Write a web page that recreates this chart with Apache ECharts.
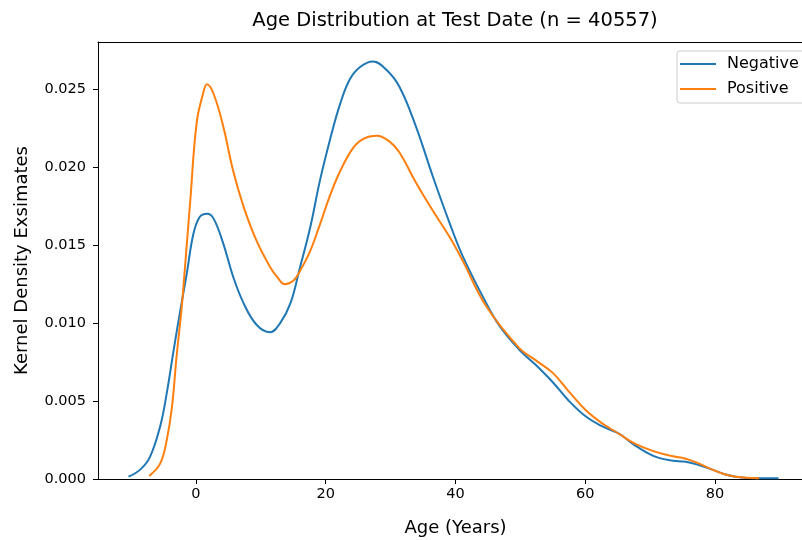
<!DOCTYPE html>
<html>
<head>
<meta charset="utf-8">
<script src="https://cdn.jsdelivr.net/npm/echarts@6/dist/echarts.min.js"></script>
<style>html,body{margin:0;padding:0;background:#fff;}#chart{width:802px;height:540px;}</style>
</head>
<body>
<div id="chart"></div>
<script>
const titleText = 'Age Distribution at Test Date (n = 40557)';
const xTicks = [0, 20, 40, 60, 80];
const yTicks = [0, 0.005, 0.010, 0.015, 0.020, 0.025];

const negAge = [-10.4, -8.6, -7.1, -5.5, -4.5, -3.5, -2.5, -1.4, -0.4, 0.6, 1.7, 2.7, 4.2, 5.7, 7.3, 9.3, 11.4, 13.0, 14.6, 16.0, 17.6, 19.1, 20.7, 22.2, 23.7, 25.3, 27.3, 29.4, 31.4, 33.9, 36.5, 39.1, 41.1, 44.2, 46.8, 49.8, 52.4, 55.0, 57.5, 60.1, 62.5, 65.2, 67.5, 70.4, 73.0, 75.5, 77.5, 79.6, 81.5, 83.2, 86.0, 89.8];
const negDensity = [0.00015, 0.0006, 0.0014, 0.0034, 0.0055, 0.0081, 0.0106, 0.0132, 0.0157, 0.0168, 0.0170, 0.0167, 0.0151, 0.0130, 0.0113, 0.0099, 0.0094, 0.0100, 0.0113, 0.0135, 0.0161, 0.0191, 0.0218, 0.0240, 0.0256, 0.0264, 0.02675, 0.0262, 0.0251, 0.0226, 0.0194, 0.0164, 0.0143, 0.0117, 0.0098, 0.0083, 0.0073, 0.0062, 0.0050, 0.0040, 0.0034, 0.0029, 0.0022, 0.0015, 0.0012, 0.0011, 0.0009, 0.0006, 0.0003, 0.00015, 0.00005, 0.00005];

const posAge = [-7.2, -5.5, -4.5, -3.7, -3.0, -2.2, -1.4, -0.9, 0.1, 1.1, 1.7, 2.7, 4.2, 5.7, 7.3, 9.3, 11.4, 12.6, 13.7, 15.0, 16.0, 17.6, 19.1, 20.7, 22.2, 24.2, 25.8, 27.9, 29.9, 31.4, 33.9, 36.5, 39.1, 41.1, 44.7, 49.8, 52.4, 55.0, 57.5, 60.1, 62.5, 65.2, 67.5, 70.4, 73.0, 75.5, 77.5, 79.6, 81.5, 83.2, 86.8];
const posDensity = [0.0002, 0.0010, 0.0025, 0.0046, 0.0078, 0.0110, 0.0151, 0.0177, 0.0228, 0.0247, 0.0253, 0.0247, 0.0226, 0.0198, 0.0175, 0.0153, 0.0136, 0.0129, 0.01248, 0.0127, 0.0133, 0.0146, 0.0163, 0.0182, 0.0197, 0.0212, 0.0218, 0.0220, 0.0216, 0.0209, 0.0190, 0.0172, 0.0155, 0.0140, 0.0111, 0.0084, 0.0076, 0.0068, 0.0056, 0.0044, 0.0036, 0.0029, 0.0023, 0.0018, 0.0015, 0.0013, 0.0010, 0.0006, 0.0003, 0.00015, 0.00005];

const seriesNames = ['Negative', 'Positive'];
const seriesColors = ['#1f77b4', '#ff7f0e'];

const font = 'DejaVu Sans';
const xMin = -15.1, xMax = 93.42;
const chart = echarts.init(document.getElementById('chart'), null, {renderer: 'canvas'});
const zip = (xs, ys) => xs.map((x, i) => [x, ys[i]]);

chart.setOption({
  animation: false,
  backgroundColor: '#fff',
  title: {
    text: titleText,
    left: 455,
    top: 11,
    padding: 0,
    textAlign: 'center',
    textStyle: {fontFamily: font, fontSize: 19.5, fontWeight: 'normal', color: '#000'}
  },
  legend: {
    orient: 'vertical',
    left: 677,
    top: 51,
    padding: [4, 40, 5, 3],
    borderColor: '#cccccc',
    borderWidth: 1,
    borderRadius: 3,
    backgroundColor: '#fff',
    itemWidth: 36,
    itemHeight: 2,
    itemGap: 7,
    icon: 'rect',
    textStyle: {fontFamily: font, fontSize: 16, color: '#000', lineHeight: 18, padding: [0, 0, 0, 6]},
    data: seriesNames
  },
  grid: {left: 98, top: 42, right: 0, bottom: 61, show: false, containLabel: false, outerBoundsMode: 'none'},
  xAxis: [{
    type: 'value',
    min: xMin,
    max: xMax,
    position: 'bottom',
    name: 'Age (Years)',
    nameLocation: 'middle',
    nameGap: 40,
    nameTextStyle: {fontFamily: font, fontSize: 18, color: '#000', padding: [0, 0, 0, 11]},
    axisLine: {show: true, onZero: false, lineStyle: {color: '#000', width: 1}},
    axisTick: {show: true, length: 5, lineStyle: {color: '#000'}, customValues: xTicks},
    axisLabel: {fontFamily: font, fontSize: 14.5, color: '#000', margin: 8, customValues: xTicks, formatter: v => String(v)},
    splitLine: {show: false}
  }, {
    type: 'value',
    min: xMin,
    max: xMax,
    position: 'top',
    axisLine: {show: true, onZero: false, lineStyle: {color: '#000', width: 1}},
    axisTick: {show: false},
    axisLabel: {show: false},
    splitLine: {show: false}
  }],
  yAxis: {
    type: 'value',
    min: 0,
    max: 0.028,
    name: 'Kernel Density Exsimates',
    nameLocation: 'middle',
    nameGap: 67,
    nameTextStyle: {fontFamily: font, fontSize: 18, color: '#000'},
    axisLine: {show: true, onZero: false, lineStyle: {color: '#000', width: 1}},
    axisTick: {show: true, length: 5, lineStyle: {color: '#000'}, customValues: yTicks},
    axisLabel: {fontFamily: font, fontSize: 14.5, color: '#000', margin: 12, customValues: yTicks, formatter: v => v.toFixed(3)},
    splitLine: {show: false}
  },
  series: [
    {name: seriesNames[0], type: 'line', xAxisIndex: 0, data: zip(negAge, negDensity), smooth: 0.4, showSymbol: false, lineStyle: {color: seriesColors[0], width: 2}, itemStyle: {color: seriesColors[0]}, z: 2},
    {name: seriesNames[1], type: 'line', xAxisIndex: 0, data: zip(posAge, posDensity), smooth: 0.4, showSymbol: false, lineStyle: {color: seriesColors[1], width: 2}, itemStyle: {color: seriesColors[1]}, z: 3}
  ]
});
</script>
</body>
</html>
